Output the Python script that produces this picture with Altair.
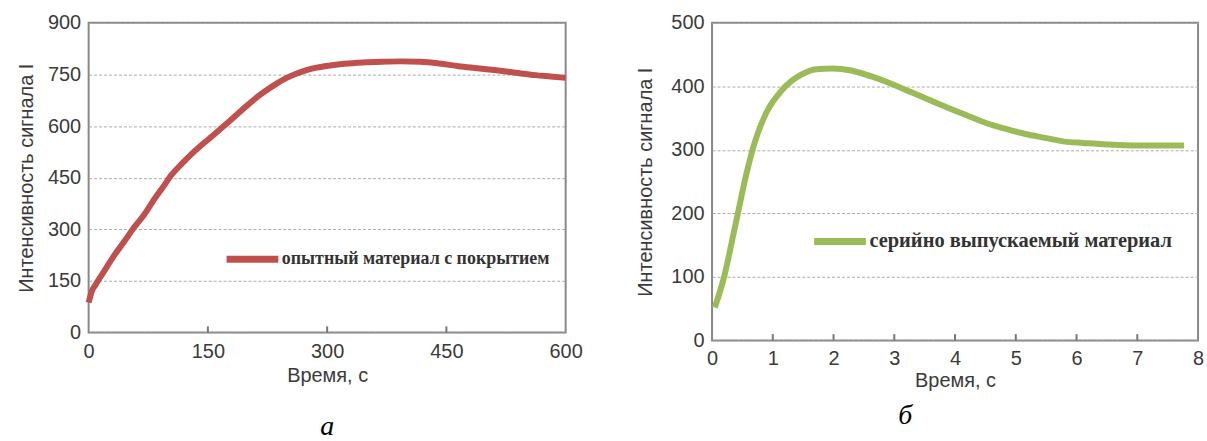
import altair as alt
import pandas as pd

# Panel a
t_a = [0, 4, 9, 20, 33, 45, 57, 70, 81, 93, 105, 117, 129, 141, 153, 165, 177, 189, 201, 213, 225, 237, 249, 261, 273, 285, 297, 321, 345, 369, 393, 417, 441, 465, 489, 513, 537, 562, 581, 600]
i_a = [87, 120, 140, 180, 227, 265, 305, 343, 382, 421, 460, 490, 518, 543, 566, 590, 614, 639, 663, 686, 706, 724, 740, 752, 762, 769, 774, 781, 785, 787, 788, 787, 782, 774, 768, 762, 755, 748, 744, 740]
name_a = "опытный материал с покрытием"

# Panel б
t_b = [0.045, 0.19, 0.38, 0.57, 0.70, 0.89, 1.15, 1.46, 1.72, 1.97, 2.29, 2.61, 2.93, 3.25, 3.57, 3.89, 4.2, 4.52, 4.84, 5.16, 5.48, 5.8, 6.11, 6.43, 7.07, 7.77]
i_b = [52, 97, 180, 264, 311, 358, 394, 418, 427, 428, 425, 416, 405, 392, 379, 366, 354, 342, 333, 325, 319, 313, 311, 309, 307, 307]
name_b = "серийно выпускаемый материал"

x_ticks_a = [0, 150, 300, 450, 600]
y_ticks_a = [0, 150, 300, 450, 600, 750, 900]
x_ticks_b = [0, 1, 2, 3, 4, 5, 6, 7, 8]
y_ticks_b = [0, 100, 200, 300, 400, 500]

df_a = pd.DataFrame({"t": t_a, "I": i_a, "s": name_a})
df_b = pd.DataFrame({"t": t_b, "I": i_b, "s": name_b})
ticks_a = pd.DataFrame({"t": x_ticks_a[1:-1], "y0": 0, "y1": 18})
ticks_b = pd.DataFrame({"t": x_ticks_b[1:-1], "y0": 0, "y1": 10})

RED = "#c0504d"
GREEN = "#9bbb59"
TXT = "#3a3a3a"

def legend(x, y, size):
    return alt.Legend(
        title=None, orient="none", legendX=x, legendY=y,
        symbolType="stroke", symbolSize=2700, symbolStrokeWidth=7,
        labelFont="Liberation Serif", labelFontSize=size, labelFontWeight="bold",
        labelColor="#333", labelLimit=600, labelOffset=0,
    )

ytitle = "Интенсивность сигнала I"


def panel(df, ticks, name, color, xdom, ydom, xt, yt, w, h, lx, ly, lsize,
          lpad, tpad, ytpad, caption, cap_off, cap_dx):
    xscale = alt.Scale(domain=xdom, nice=False)
    yscale = alt.Scale(domain=ydom, nice=False)
    line = alt.Chart(df).mark_line(strokeWidth=6, interpolate="monotone").encode(
        x=alt.X("t:Q", scale=xscale,
                axis=alt.Axis(values=xt, title="Время, с", grid=False, format="d",
                              labelFlush=False, labelPadding=lpad, titlePadding=tpad)),
        y=alt.Y("I:Q", scale=yscale,
                axis=alt.Axis(values=yt, title=ytitle, format="d", labelFlush=False,
                              labelPadding=8, titlePadding=ytpad)),
        color=alt.Color("s:N", scale=alt.Scale(domain=[name], range=[color]),
                        legend=legend(lx, ly, lsize)),
    )
    tk = alt.Chart(ticks).mark_rule(color="#777", strokeWidth=2).encode(
        x=alt.X("t:Q", scale=xscale),
        y=alt.Y("y0:Q", scale=yscale),
        y2="y1:Q",
    )
    return alt.layer(line, tk).properties(
        width=w, height=h,
        title=alt.TitleParams(caption, orient="bottom", font="Liberation Serif",
                              fontStyle="italic", fontSize=28, fontWeight="normal",
                              color="#000", offset=cap_off, dx=cap_dx),
    )


left = panel(df_a, ticks_a, name_a, RED, [0, 600], [0, 900], x_ticks_a, y_ticks_a,
             479, 311, 135, 208, 18, 9, 4, 11, "а", 28, 0)
right = panel(df_b, ticks_b, name_b, GREEN, [0, 8], [0, 500], x_ticks_b, y_ticks_b,
              488, 319, 99, 190, 20.5, 8, 2, 15, "б", 12, -50)

chart = alt.hconcat(left, right, spacing=51).resolve_scale(color="independent").configure(
    padding={"left": 15, "top": 11, "right": 2, "bottom": 2},
).configure_view(
    stroke="#888", strokeWidth=2,
).configure_axis(
    domain=False, ticks=False, tickSize=0,
    grid=True, gridColor="#aaa", gridDash=[3, 2], gridWidth=1,
    labelFont="Liberation Sans", labelFontSize=20, labelColor=TXT,
    titleFont="Liberation Sans", titleFontSize=20, titleFontWeight="normal", titleColor=TXT,
)

chart.save("out.html", embed_options={"renderer": "svg", "actions": False})
